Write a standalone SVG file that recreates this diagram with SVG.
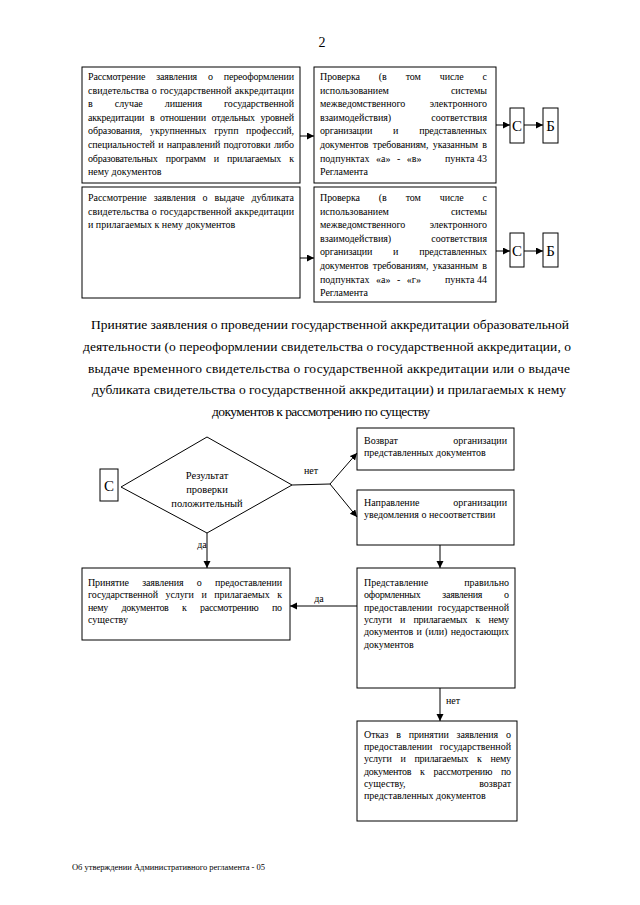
<svg xmlns="http://www.w3.org/2000/svg" width="640" height="905" viewBox="0 0 640 905">
<style>
.t{font-family:"Liberation Serif","Times New Roman",serif;font-size:10px;fill:#000}
.e{text-anchor:end}
.m{text-anchor:middle}
.big{font-family:"Liberation Serif","Times New Roman",serif;font-size:13.5px;fill:#000;text-anchor:middle}
.cb{font-family:"Liberation Serif","Times New Roman",serif;font-size:15px;fill:#000;text-anchor:middle}
.box{fill:#fff;stroke:#000;stroke-width:1}
.ln{stroke:#000;stroke-width:1;fill:none}
</style>
<defs>
<marker id="ah" markerUnits="userSpaceOnUse" markerWidth="8" markerHeight="8" refX="7" refY="3.5" orient="auto">
<path d="M0,0 L7,3.5 L0,7 z" fill="#000"/>
</marker>
</defs>
<rect width="640" height="905" fill="#fff"/>
<text class="cb" x="322" y="47" style="font-size:14px">2</text>

<g id="n1">
<rect class="box" x="82" y="67" width="218" height="116"/>
<text class="t" x="88" y="80" textLength="206" lengthAdjust="spacing" style="word-spacing:8.6px">Рассмотрение заявления о переоформлении</text>
<text class="t" x="88" y="93.6" textLength="206" lengthAdjust="spacing" style="word-spacing:0.6px">свидетельства о государственной аккредитации</text>
<text class="t" x="88" y="107.2" textLength="206" lengthAdjust="spacing" style="word-spacing:19.8px">в случае лишения государственной</text>
<text class="t" x="88" y="120.8" textLength="206" lengthAdjust="spacing" style="word-spacing:3.4px">аккредитации в отношении отдельных уровней</text>
<text class="t" x="88" y="134.4" textLength="206" lengthAdjust="spacing" style="word-spacing:5.3px">образования, укрупненных групп профессий,</text>
<text class="t" x="88" y="148" textLength="206" lengthAdjust="spacing" style="word-spacing:1px">специальностей и направлений подготовки либо</text>
<text class="t" x="88" y="161.6" textLength="206" lengthAdjust="spacing" style="word-spacing:5.8px">образовательных программ и прилагаемых к</text>
<text class="t" x="88" y="175.2">нему документов</text>
</g>

<g id="n2">
<rect class="box" x="314" y="67" width="182" height="116"/>
<text class="t" x="320" y="80" textLength="167" lengthAdjust="spacing" style="word-spacing:16.5px">Проверка (в том числе с</text>
<text class="t" x="320" y="93.6">использованием</text><text class="t e" x="487" y="93.6">системы</text>
<text class="t" x="320" y="107.2">межведомственного</text><text class="t e" x="487" y="107.2">электронного</text>
<text class="t" x="320" y="120.8">взаимодействия)</text><text class="t e" x="487" y="120.8">соответствия</text>
<text class="t" x="320" y="134.4" textLength="167" lengthAdjust="spacing" style="word-spacing:18.6px">организации и представленных</text>
<text class="t" x="320" y="148" textLength="167" lengthAdjust="spacing" style="word-spacing:2px">документов требованиям, указанным в</text>
<text class="t" x="320" y="161.6" style="word-spacing:4px">подпунктах «а» - «в»</text><text class="t" x="445" y="161.6">пункта</text><text class="t e" x="487" y="161.6">43</text>
<text class="t" x="320" y="175.2">Регламента</text>
</g>

<g id="c1">
<rect class="box" x="510" y="108" width="14" height="35"/>
<text class="cb" x="517" y="131">С</text>
</g>
<g id="b1">
<rect class="box" x="543" y="108" width="15" height="35"/>
<text class="cb" x="550.5" y="131">Б</text>
</g>

<g id="n3">
<rect class="box" x="82" y="187" width="218" height="111"/>
<text class="t" x="88" y="201" textLength="206" lengthAdjust="spacing" style="word-spacing:4.6px">Рассмотрение заявления о выдаче дубликата</text>
<text class="t" x="88" y="214.6" textLength="206" lengthAdjust="spacing" style="word-spacing:0.6px">свидетельства о государственной аккредитации</text>
<text class="t" x="88" y="228.2">и прилагаемых к нему документов</text>
</g>

<g id="n4">
<rect class="box" x="314" y="187" width="182" height="115"/>
<text class="t" x="320" y="201" textLength="167" lengthAdjust="spacing" style="word-spacing:16.5px">Проверка (в том числе с</text>
<text class="t" x="320" y="214.6">использованием</text><text class="t e" x="487" y="214.6">системы</text>
<text class="t" x="320" y="228.2">межведомственного</text><text class="t e" x="487" y="228.2">электронного</text>
<text class="t" x="320" y="241.8">взаимодействия)</text><text class="t e" x="487" y="241.8">соответствия</text>
<text class="t" x="320" y="255.4" textLength="167" lengthAdjust="spacing" style="word-spacing:18.6px">организации и представленных</text>
<text class="t" x="320" y="269" textLength="167" lengthAdjust="spacing" style="word-spacing:2px">документов требованиям, указанным в</text>
<text class="t" x="320" y="282.6" style="word-spacing:4px">подпунктах «а» - «г»</text><text class="t" x="445" y="282.6">пункта</text><text class="t e" x="487" y="282.6">44</text>
<text class="t" x="320" y="296.2">Регламента</text>
</g>

<g id="c2">
<rect class="box" x="510" y="233" width="14" height="34"/>
<text class="cb" x="517" y="255.5">С</text>
</g>
<g id="b2">
<rect class="box" x="543" y="233" width="15" height="34"/>
<text class="cb" x="550.5" y="255.5">Б</text>
</g>

<g id="heading">
<text class="big" x="330" y="329" textLength="478" lengthAdjust="spacing">Принятие заявления о проведении государственной аккредитации образовательной</text>
<text class="big" x="327" y="351" textLength="488" lengthAdjust="spacing">деятельности (о переоформлении свидетельства о государственной аккредитации, о</text>
<text class="big" x="329" y="372.5" textLength="482" lengthAdjust="spacing">выдаче временного свидетельства о государственной аккредитации или о выдаче</text>
<text class="big" x="329" y="394" textLength="474" lengthAdjust="spacing">дубликата свидетельства о государственной аккредитации) и прилагаемых к нему</text>
<text class="big" x="321" y="415.5" textLength="218" lengthAdjust="spacing">документов к рассмотрению по существу</text>
</g>

<g id="c3">
<rect class="box" x="100" y="469" width="18" height="32"/>
<text class="cb" x="109" y="491">С</text>
</g>

<g id="d1">
<polygon class="box" points="121,487 207,437 292,485 207,533"/>
<text class="t m" x="207" y="479" style="font-size:10.5px">Результат</text>
<text class="t m" x="207" y="493" style="font-size:10.5px">проверки</text>
<text class="t m" x="207" y="507" style="font-size:10.5px">положительный</text>
</g>

<g id="n5">
<rect class="box" x="357" y="428" width="157" height="42"/>
<text class="t" x="364" y="444">Возврат</text><text class="t e" x="507" y="444">организации</text>
<text class="t" x="364" y="456.3">представленных документов</text>
</g>

<g id="n6">
<rect class="box" x="357" y="490" width="157" height="55"/>
<text class="t" x="364" y="506">Направление</text><text class="t e" x="507" y="506">организации</text>
<text class="t" x="364" y="518.3">уведомления о несоответствии</text>
</g>

<g id="n7">
<rect class="box" x="82" y="568" width="208" height="72"/>
<text class="t" x="88" y="586" textLength="194" lengthAdjust="spacing" style="word-spacing:11px">Принятие заявления о предоставлении</text>
<text class="t" x="88" y="598.3" textLength="194" lengthAdjust="spacing" style="word-spacing:5.2px">государственной услуги и прилагаемых к</text>
<text class="t" x="88" y="610.6" textLength="194" lengthAdjust="spacing" style="word-spacing:11.2px">нему документов к рассмотрению по</text>
<text class="t" x="88" y="622.9">существу</text>
</g>

<g id="n8">
<rect class="box" x="357" y="568" width="158" height="120"/>
<text class="t" x="364" y="586">Представление</text><text class="t e" x="509" y="586">правильно</text>
<text class="t" x="364" y="598.3" textLength="145" lengthAdjust="spacing" style="word-spacing:19.6px">оформленных заявления о</text>
<text class="t" x="364" y="610.6">предоставлении</text><text class="t e" x="509" y="610.6">государственной</text>
<text class="t" x="364" y="622.9" textLength="145" lengthAdjust="spacing" style="word-spacing:6.1px">услуги и прилагаемых к нему</text>
<text class="t" x="364" y="635.2" textLength="145" lengthAdjust="spacing" style="word-spacing:1px">документов и (или) недостающих</text>
<text class="t" x="364" y="647.5">документов</text>
</g>

<g id="n9">
<rect class="box" x="357" y="721" width="160" height="100"/>
<text class="t" x="364" y="738" textLength="147" lengthAdjust="spacing" style="word-spacing:5.5px">Отказ в принятии заявления о</text>
<text class="t" x="364" y="750.2">предоставлении</text><text class="t e" x="511" y="750.2">государственной</text>
<text class="t" x="364" y="762.4" textLength="147" lengthAdjust="spacing" style="word-spacing:6.6px">услуги и прилагаемых к нему</text>
<text class="t" x="364" y="774.6" textLength="147" lengthAdjust="spacing" style="word-spacing:6.5px">документов к рассмотрению по</text>
<text class="t" x="364" y="786.8">существу,</text><text class="t e" x="511" y="786.8">возврат</text>
<text class="t" x="364" y="799">представленных документов</text>
</g>

<g id="connectors">
<line class="ln" x1="300" y1="136" x2="314" y2="136" marker-end="url(#ah)"/>
<line class="ln" x1="496" y1="125" x2="510" y2="125" marker-end="url(#ah)"/>
<line class="ln" x1="524" y1="125" x2="543" y2="125" marker-end="url(#ah)"/>
<line class="ln" x1="300" y1="258" x2="314" y2="258" marker-end="url(#ah)"/>
<line class="ln" x1="496" y1="251" x2="510" y2="251" marker-end="url(#ah)"/>
<line class="ln" x1="524" y1="251" x2="543" y2="251" marker-end="url(#ah)"/>
<polyline class="ln" points="292,485 330,484"/>
<line class="ln" x1="330" y1="484" x2="357" y2="453" marker-end="url(#ah)"/>
<line class="ln" x1="330" y1="484" x2="357" y2="517" marker-end="url(#ah)"/>
<text class="t m" x="311" y="474">нет</text>
<line class="ln" x1="207" y1="533" x2="207" y2="568" marker-end="url(#ah)"/>
<text class="t m" x="202" y="548">да</text>
<line class="ln" x1="440" y1="545" x2="440" y2="568" marker-end="url(#ah)"/>
<line class="ln" x1="357" y1="606" x2="290" y2="606" marker-end="url(#ah)"/>
<text class="t m" x="319" y="602">да</text>
<line class="ln" x1="440" y1="688" x2="440" y2="721" marker-end="url(#ah)"/>
<text class="t" x="446" y="704">нет</text>
</g>

<text class="t" x="72" y="870" style="font-size:8.5px" textLength="193" lengthAdjust="spacing">Об утверждении Административного регламента - 05</text>
</svg>
